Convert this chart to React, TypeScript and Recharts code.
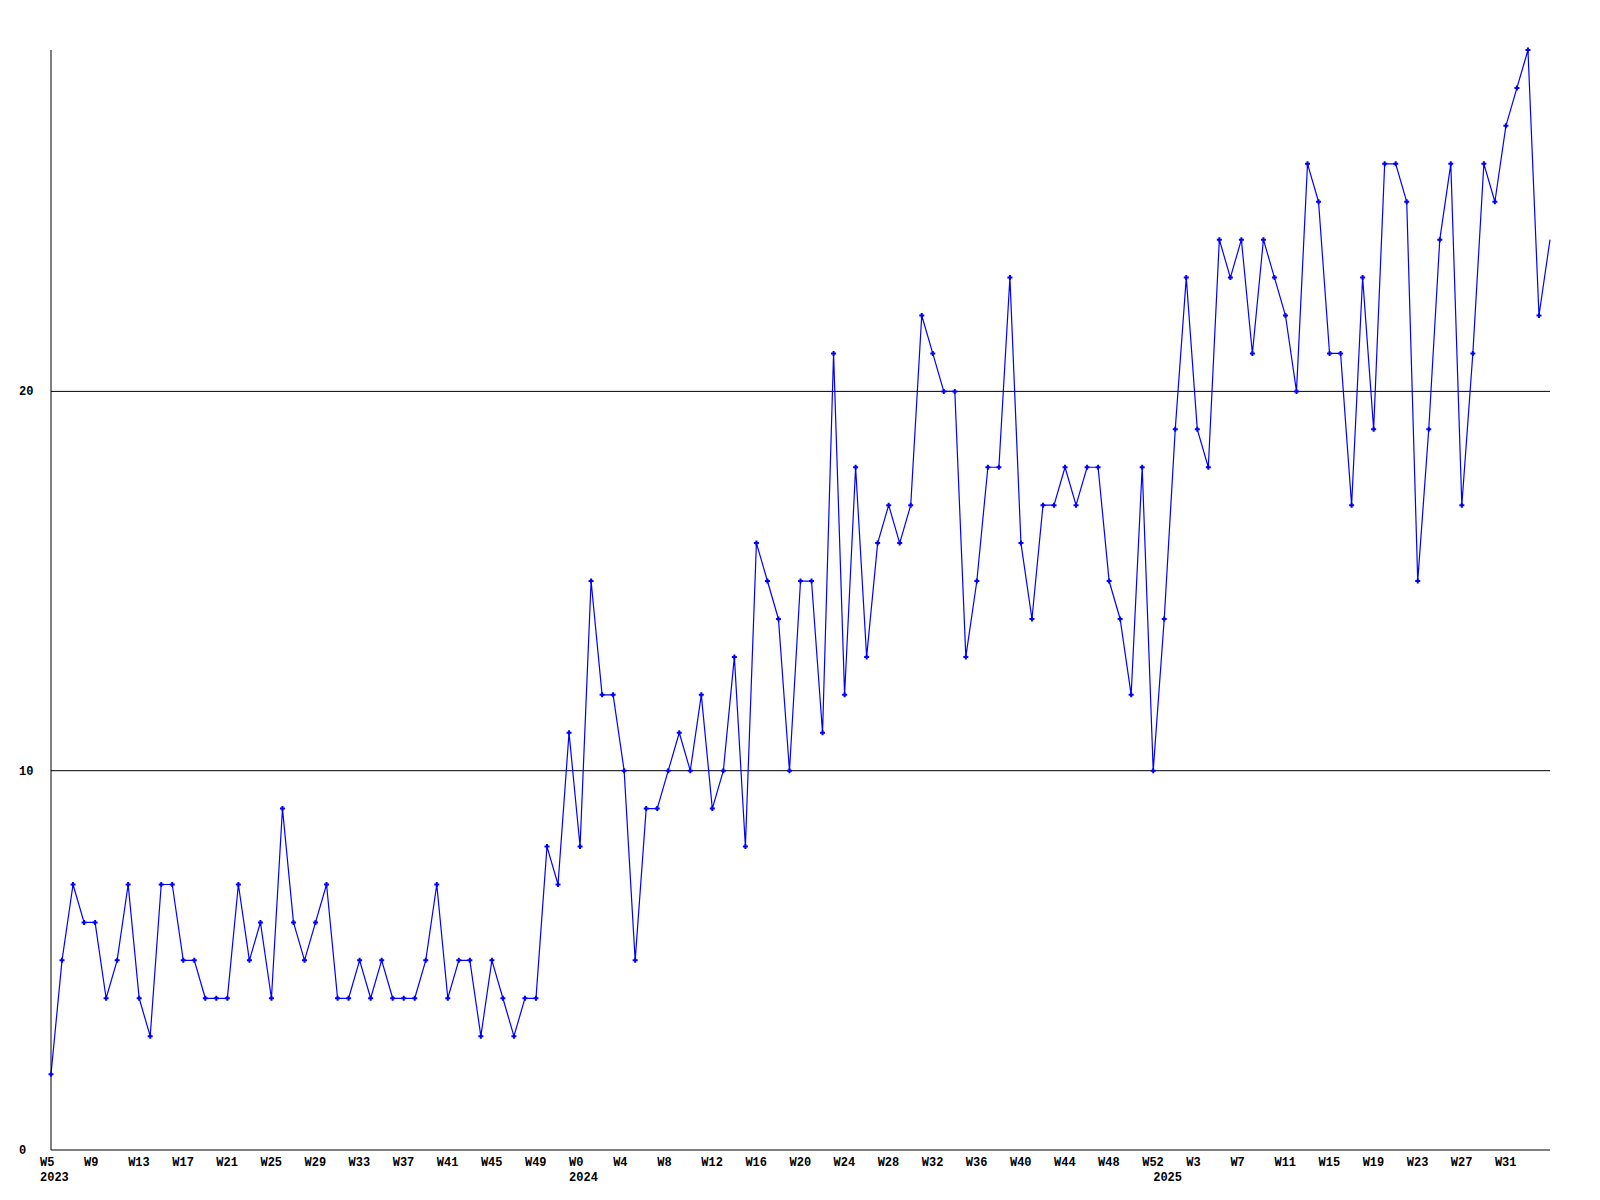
import { LineChart, Line, XAxis, YAxis, ReferenceLine } from "recharts";

// weekly counts, 2023 starts at W5, 2024 + 2025 start at W0
const counts2023 = [
  2, 5, 7, 6, 6, 4, 5, 7, 4, 3, 7, 7, 5, 5, 4, 4, 4, 7, 5, 6, 4, 9, 6, 5,
  6, 7, 4, 4, 5, 4, 5, 4, 4, 4, 5, 7, 4, 5, 5, 3, 5, 4, 3, 4, 4, 8, 7, 11,
];
const counts2024 = [
  8, 15, 12, 12, 10, 5, 9, 9, 10, 11, 10, 12, 9, 10, 13, 8, 16, 15, 14, 10,
  15, 15, 11, 21, 12, 18, 13, 16, 17, 16, 17, 22, 21, 20, 20, 13, 15, 18, 18,
  23, 16, 14, 17, 17, 18, 17, 18, 18, 15, 14, 12, 18, 10,
];
const counts2025 = [
  14, 19, 23, 19, 18, 24, 23, 24, 21, 24, 23, 22, 20, 26, 25, 21, 21, 17, 23,
  19, 26, 26, 25, 15, 19, 24, 26, 17, 21, 26, 25, 27, 28, 29, 22, 24,
];

const years = [2023, 2024, 2025];
const firstWeeks = [5, 0, 0];
const yearCounts = [counts2023, counts2024, counts2025];
const yTicks = [0, 10, 20];

const data = yearCounts.flatMap((arr, y) =>
  arr.map((value, k) => ({
    year: years[y],
    week: firstWeeks[y] + k,
    value,
  }))
);
data.forEach((d, i) => Object.assign(d, { i }));

const lastIndex = data.length - 1;
const xTicks = data.map((_, i) => i).filter((i) => i % 4 === 0 && i < lastIndex);
// index of the first week of each year
const yearStarts = data.map((_, i) => i).filter((i) => i === 0 || data[i].week === 0);

const font = {
  fontFamily: "'Liberation Mono', 'DejaVu Sans Mono', monospace",
  fontWeight: 700,
  fontSize: 12,
  fill: "#000",
};

const WeekTick = (props: any) => {
  const { x, y, payload } = props;
  const d = data[payload.value];
  if (!d) return <g />;
  return (
    <text x={x - 11} y={y + 8} textAnchor="start" {...font}>
      {`W${d.week}`}
    </text>
  );
};

const YearTick = (props: any) => {
  const { x, y, payload } = props;
  const d = data[payload.value];
  if (!d) return <g />;
  return (
    <text x={x - 11} y={y - 3} textAnchor="start" {...font}>
      {d.year}
    </text>
  );
};

const ValueTick = (props: any) => {
  const { y, payload } = props;
  return (
    <text x={11} y={y + 4} textAnchor="start" {...font}>
      {payload.value}
    </text>
  );
};

const Marker = (props: any) => {
  const { cx, cy, index } = props;
  if (index === lastIndex || cx == null) return <g key={index} />;
  return (
    <path
      key={index}
      d={`M${cx - 2.5},${cy}H${cx + 2.5}M${cx},${cy - 2.5}V${cy + 2.5}`}
      stroke="#0000ff"
      strokeWidth={2}
      fill="none"
    />
  );
};

export default function App() {
  return (
    <LineChart
      width={1584}
      height={1184}
      data={data}
      margin={{ top: 42, right: 42, bottom: 0, left: 0 }}
    >
      <XAxis
        type="number"
        dataKey="i"
        domain={[0, lastIndex]}
        ticks={xTicks}
        interval={0}
        tick={<WeekTick />}
        tickLine={false}
        axisLine={{ stroke: "#000", strokeWidth: 1 }}
        height={26}
      />
      <XAxis
        xAxisId="year"
        type="number"
        dataKey="i"
        domain={[0, lastIndex]}
        ticks={yearStarts}
        interval={0}
        tick={<YearTick />}
        tickLine={false}
        axisLine={false}
        height={16}
      />
      <YAxis
        type="number"
        domain={[0, 29]}
        ticks={yTicks}
        tick={<ValueTick />}
        tickLine={false}
        axisLine={{ stroke: "#000", strokeWidth: 1 }}
        width={43}
      />
      {yTicks
        .filter((t) => t > 0)
        .map((t) => (
          <ReferenceLine key={t} y={t} stroke="#000" strokeWidth={1} />
        ))}
      <Line
        type="linear"
        dataKey="value"
        stroke="#0000ff"
        strokeWidth={1.2}
        dot={<Marker />}
        activeDot={false}
        isAnimationActive={false}
      />
    </LineChart>
  );
}
